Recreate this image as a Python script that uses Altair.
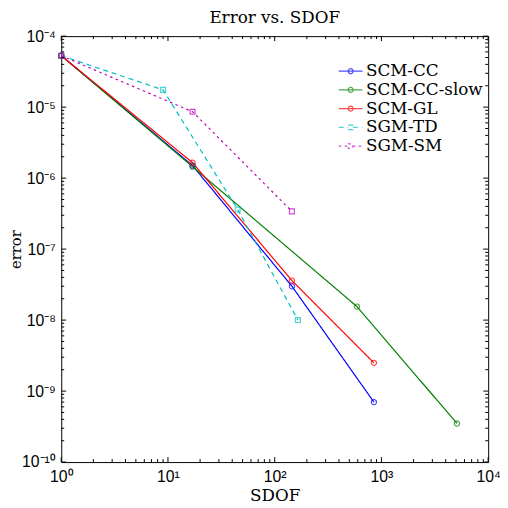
import altair as alt
import pandas as pd

# ---- data ----
series_names = ["SCM-CC", "SCM-CC-slow", "SCM-GL", "SGM-TD", "SGM-SM"]
scm_cc_sdof = [1, 17, 145, 850]
scm_cc_err = [5.3e-5, 1.5e-6, 3.0e-8, 7.0e-10]
scm_cc_slow_sdof = [1, 17, 590, 5100]
scm_cc_slow_err = [5.3e-5, 1.45e-6, 1.55e-8, 3.5e-10]
scm_gl_sdof = [1, 17, 145, 850]
scm_gl_err = [5.3e-5, 1.65e-6, 3.6e-8, 2.5e-9]
sgm_td_sdof = [1, 9, 45, 165]
sgm_td_err = [5.3e-5, 1.75e-5, 3.6e-7, 1.0e-8]
sgm_sm_sdof = [1, 17, 145]
sgm_sm_err = [5.3e-5, 8.6e-6, 3.4e-7]

colors = ["#0000FF", "#008000", "#FF0000", "#00BFBF", "#BF00BF"]
dashes = [[1, 0], [1, 0], [1, 0], [5, 4], [2.5, 3.5]]

x_major = [1, 10, 100, 1000, 10000]
y_major = [1e-10, 1e-9, 1e-8, 1e-7, 1e-6, 1e-5, 1e-4]
x_minor = [m * d for d in [1, 10, 100, 1000] for m in range(2, 10)]
y_minor = [m * d for d in [1e-10, 1e-9, 1e-8, 1e-7, 1e-6, 1e-5] for m in range(2, 10)]

rows = []
for name, xs, ys in [
    ("SCM-CC", scm_cc_sdof, scm_cc_err),
    ("SCM-CC-slow", scm_cc_slow_sdof, scm_cc_slow_err),
    ("SCM-GL", scm_gl_sdof, scm_gl_err),
    ("SGM-TD", sgm_td_sdof, sgm_td_err),
    ("SGM-SM", sgm_sm_sdof, sgm_sm_err),
]:
    for i, (xv, yv) in enumerate(zip(xs, ys)):
        rows.append({"series": name, "sdof": xv, "error": yv, "order": i})
df = pd.DataFrame(rows)

W, H = 433, 432
SERIF = "DejaVu Serif"
SANS = "Liberation Sans"

sup_expr = (
    "'10' + replace(replace(replace(replace(replace(replace(replace(replace(replace(replace(replace("
    "'' + round(log(datum.value)/LN10),'-','\u207b'),'0','\u2070'),'1','\u00b9'),'2','\u00b2'),'3','\u00b3'),"
    "'4','\u2074'),'5','\u2075'),'6','\u2076'),'7','\u2077'),'8','\u2078'),'9','\u2079')"
)

xscale = alt.Scale(type="log", domain=[1, 10000], nice=False)
yscale = alt.Scale(type="log", domain=[1e-10, 1e-4], nice=False)
cscale = alt.Scale(domain=series_names, range=colors)
dscale = alt.Scale(domain=series_names, range=dashes)

circ = "M-2,0H2M0.42,0A0.42,0.42,0,1,1,-0.42,0A0.42,0.42,0,1,1,0.42,0Z"
sq = "M-2,0H-0.38M0.38,0H2M-0.38,-0.38H0.38V0.38H-0.38Z"
shscale = alt.Scale(domain=series_names, range=[circ, circ, circ, sq, sq])

x_enc = alt.X(
    "sdof:Q", scale=xscale,
    axis=alt.Axis(values=x_major, labelExpr=sup_expr, ticks=False, domain=False, grid=False,
                  labelFont=SANS, labelFontSize=16, labelPadding=7, labelColor="black",
                  title="SDOF", titleFont=SERIF, titleFontSize=17, titleFontWeight="normal",
                  titlePadding=3, titleColor="black", labelFlush=False),
)
y_enc = alt.Y(
    "error:Q", scale=yscale,
    axis=alt.Axis(values=y_major, labelExpr=sup_expr, ticks=False, domain=False, grid=False,
                  labelFont=SANS, labelFontSize=16, labelPadding=6, labelColor="black",
                  title="error", titleFont=SERIF, titleFontSize=15, titleFontWeight="normal",
                  titleX=-38, titleY=H / 2, titleAngle=270, titleBaseline="bottom",
                  titleColor="black", labelFlush=False),
)

base = alt.Chart(df)

lines = base.mark_line(strokeWidth=1.2, clip=True).encode(
    x=x_enc, y=y_enc,
    color=alt.Color("series:N", scale=cscale, legend=None),
    strokeDash=alt.StrokeDash("series:N", scale=dscale, legend=None),
    order="order:Q",
)

pts_c = base.transform_filter(
    alt.FieldOneOfPredicate(field="series", oneOf=series_names[:3])
).mark_point(shape="circle", filled=False, size=28, strokeWidth=1.2).encode(
    x="sdof:Q", y="error:Q",
    color=alt.Color("series:N", scale=cscale, legend=None),
)
pts_s = base.transform_filter(
    alt.FieldOneOfPredicate(field="series", oneOf=series_names[3:])
).mark_point(shape="square", filled=False, size=24, strokeWidth=1.2).encode(
    x="sdof:Q", y="error:Q",
    color=alt.Color("series:N", scale=cscale, legend=None),
)


def leg():
    return alt.Legend(
        title=None, orient="none", legendX=285, legendY=27, padding=0,
        labelFont=SERIF, labelFontSize=17, labelColor="black", labelOffset=7,
        symbolSize=144, symbolStrokeWidth=1.2, rowPadding=1, labelLimit=300,
    )


legend_layer = base.transform_filter("false").mark_point(filled=False, strokeWidth=1.2).encode(
    x="sdof:Q", y="error:Q",
    color=alt.Color("series:N", scale=cscale, legend=leg()),
    shape=alt.Shape("series:N", scale=shscale, legend=leg()),
    strokeDash=alt.StrokeDash("series:N", scale=dscale, legend=leg()),
)

# tick marks (inside, on all four sides)
def xticks(vals, length):
    d = pd.DataFrame({"v": vals})
    bot = alt.Chart(d).mark_rule(color="black", strokeWidth=1).encode(
        x=alt.X("v:Q", scale=xscale), y=alt.value(H), y2=alt.value(H - length))
    top = alt.Chart(d).mark_rule(color="black", strokeWidth=1).encode(
        x=alt.X("v:Q", scale=xscale), y=alt.value(0), y2=alt.value(length))
    return [bot, top]


def yticks(vals, length):
    d = pd.DataFrame({"v": vals})
    left = alt.Chart(d).mark_rule(color="black", strokeWidth=1).encode(
        y=alt.Y("v:Q", scale=yscale), x=alt.value(0), x2=alt.value(length))
    right = alt.Chart(d).mark_rule(color="black", strokeWidth=1).encode(
        y=alt.Y("v:Q", scale=yscale), x=alt.value(W), x2=alt.value(W - length))
    return [left, right]


tick_layers = xticks(x_major, 5) + xticks(x_minor, 3) + yticks(y_major, 5) + yticks(y_minor, 3)

chart = alt.layer(lines, pts_c, pts_s, legend_layer, *tick_layers).resolve_legend(
    color="independent", shape="independent", strokeDash="independent"
).properties(
    width=W, height=H,
    title=alt.TitleParams("Error vs. SDOF", font=SERIF, fontSize=17, fontWeight="normal",
                          color="black", offset=1),
    autosize=alt.AutoSizeParams(type="none"),
    padding={"left": 54, "top": 25, "right": 12, "bottom": 40},
    background="white",
).configure_view(stroke="black", strokeWidth=1)

chart.save("out.html", embed_options={"renderer": "svg", "actions": False})
